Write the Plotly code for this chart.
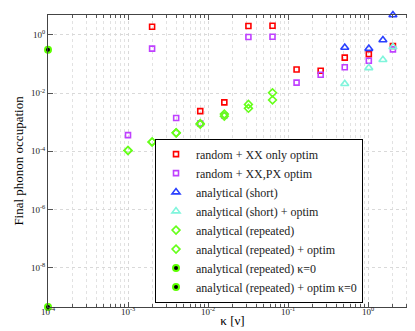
import math
import plotly.graph_objs as go

# coupling strength kappa [nu] and final phonon occupation per method
kappa_xx = [2e-3, 8e-3, 0.016, 0.032, 0.064, 0.128, 0.256, 0.512, 1.024, 2.048, 4.096]
occ_xx = [1.92, 2.4e-3, 4.8e-3, 2.03, 2.07, 0.065, 0.059, 0.167, 0.22, 0.42, 1.27]

kappa_xxpx = [1e-3, 2e-3, 4e-3, 8e-3, 0.016, 0.032, 0.064, 0.128, 0.256, 0.512, 1.024, 2.048, 4.096]
occ_xxpx = [3.6e-4, 0.34, 1.4e-3, 9e-4, 1.7e-3, 0.85, 0.87, 0.023, 0.043, 0.078, 0.13, 0.32, 1.1]

kappa_short = [0.512, 1.024, 1.536, 2.048]
occ_short = [0.37, 0.34, 0.67, 4.87]
occ_short_optim = [0.021, 0.074, 0.14, 0.39]

kappa_rep = [1e-3, 2e-3, 4e-3, 8e-3, 0.016, 0.032, 0.064]
occ_rep = [1.07e-4, 2.1e-4, 4.3e-4, 9e-4, 1.9e-3, 4.1e-3, 1.03e-2]
occ_rep_optim = [1.07e-4, 2.1e-4, 4.3e-4, 8.5e-4, 1.6e-3, 3.0e-3, 5.8e-3]

# kappa=0 results drawn at the left edge of the axis
kappa_zero = [1e-4]
occ_rep_k0 = [0.31]
occ_rep_optim_k0 = [4.4e-10]

font = 'Liberation Serif'

fig = go.Figure()

def add_series(x, y, name, symbol, color, size, fill=None, width=1.6):
    fig.add_trace(go.Scatter(
        x=x, y=y, mode='markers', name=name, cliponaxis=False,
        marker=dict(symbol=symbol, size=size,
                    color=fill if fill else color,
                    line=dict(color=color, width=width))
    ))

add_series(kappa_xx, occ_xx, 'random + XX only optim', 'square-open', '#ff0000', 5)
add_series(kappa_xxpx, occ_xxpx, 'random + XX,PX optim', 'square-open', '#bf40ff', 5)
add_series(kappa_short, occ_short, 'analytical (short)', 'triangle-up-open', '#2a40ff', 7)
add_series(kappa_short, occ_short_optim, 'analytical (short) + optim', 'triangle-up-open', '#7ff5dc', 7)
add_series(kappa_rep, occ_rep, 'analytical (repeated)', 'diamond-open', '#66ff1a', 6)
add_series(kappa_rep, occ_rep_optim, 'analytical (repeated) + optim', 'diamond-open', '#66ff1a', 6)
add_series(kappa_zero, occ_rep_k0, 'analytical (repeated) κ=0', 'circle', '#5cff00', 6, fill='black', width=2)
add_series(kappa_zero, occ_rep_optim_k0, 'analytical (repeated) + optim κ=0', 'circle', '#5cff00', 6, fill='black', width=2)

all_x = kappa_xx + kappa_xxpx + kappa_short + kappa_rep + kappa_zero
all_y = occ_xx + occ_xxpx + occ_short + occ_short_optim + occ_rep + occ_rep_optim + occ_rep_k0 + occ_rep_optim_k0

x_major = [-4, -3, -2, -1, 0]
y_major = [0, -2, -4, -6, -8]
x_minor = [m * 10 ** e for e in range(-4, 1) for m in range(2, 10)]

fig.update_layout(
    width=415, height=331,
    margin=dict(l=40, r=6, t=7, b=32),
    paper_bgcolor='white', plot_bgcolor='white',
    font=dict(family=font, size=12, color='black'),
    showlegend=True,
    legend=dict(
        x=0.29, y=0.015, xanchor='left', yanchor='bottom',
        bgcolor='white', bordercolor='black', borderwidth=1,
        font=dict(family=font, size=12, color='#222')
    ),
    xaxis=dict(
        type='log',
        range=[math.log10(min(all_x)), math.log10(max(all_x))],
        tickvals=[10 ** e for e in x_major],
        ticktext=[f'10<sup>{e}</sup>' for e in x_major],
        tickfont=dict(size=9, color='#222'),
        ticklabelstandoff=-4,
        ticks='inside', ticklen=5, tickcolor='#555',
        showline=True, linecolor='#444', linewidth=1, mirror='ticks',
        showgrid=True, gridcolor='#d9d9d9', griddash='dot', gridwidth=1,
        minor=dict(tickvals=x_minor, ticks='inside', ticklen=3, tickcolor='#555',
                   showgrid=True, gridcolor='#e2e2e2', griddash='dot'),
        title=dict(text='κ [ν]', font=dict(size=13), standoff=0),
        zeroline=False,
    ),
    yaxis=dict(
        type='log',
        range=[math.log10(min(all_y)), math.log10(max(all_y))],
        tickvals=[10 ** e for e in y_major],
        ticktext=[f'10<sup>{e}</sup>' for e in y_major],
        tickfont=dict(size=9, color='#222'),
        ticks='inside', ticklen=5, tickcolor='#555',
        showline=True, linecolor='#444', linewidth=1, mirror='ticks',
        showgrid=True, gridcolor='#d9d9d9', griddash='dot', gridwidth=1,
        title=dict(text='Final phonon occupation', font=dict(size=13), standoff=4),
        zeroline=False,
    ),
)

fig.write_html("out.html")
